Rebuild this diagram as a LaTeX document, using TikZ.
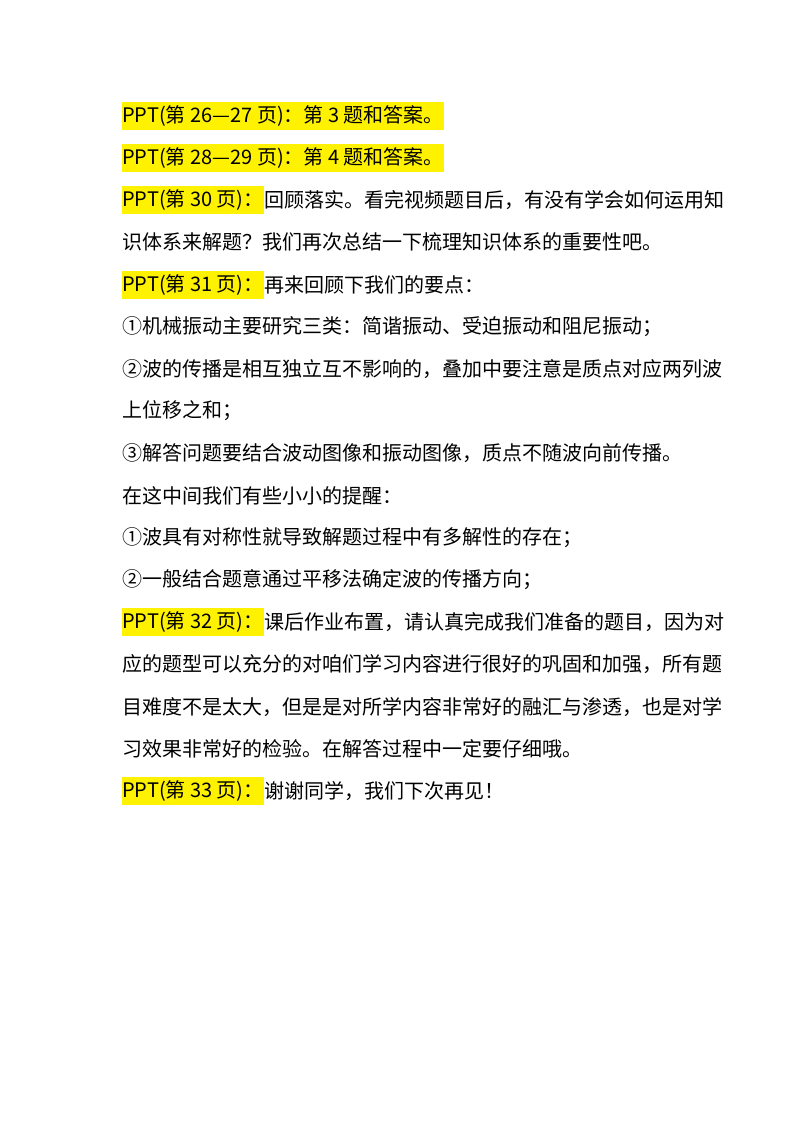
\documentclass[tikz,border=0pt]{standalone}
\usepackage{fontspec}
\newfontfamily\cjk{Noto Sans CJK SC}
\begin{document}
\begin{tikzpicture}[x=0.75pt,y=-0.75pt,
  hl/.style={anchor=west,fill=yellow,inner xsep=0pt,inner ysep=3pt,font=\cjk\fontsize{15}{18}\selectfont},
  tx/.style={anchor=west,inner xsep=0pt,inner ysep=3pt,font=\cjk\fontsize{15}{18}\selectfont}]
\useasboundingbox[fill=white] (0,0) rectangle (800,1132);
\node[hl] (a1) at (122,116) {PPT(第 26—27 页)：第 3 题和答案。};
\node[hl] (a2) at (122,158) {PPT(第 28—29 页)：第 4 题和答案。};
\node[hl] (a3) at (122,200) {PPT(第 30 页)：};
\node[tx] (b3) at (a3.east) {回顾落实。看完视频题目后，有没有学会如何运用知};
\node[tx] (c3) at (122,242) {识体系来解题？我们再次总结一下梳理知识体系的重要性吧。};
\node[hl] (a4) at (122,285) {PPT(第 31 页)：};
\node[tx] (b4) at (a4.east) {再来回顾下我们的要点：};
\node[tx] (l1) at (122,327) {①机械振动主要研究三类：简谐振动、受迫振动和阻尼振动；};
\node[tx] (l2) at (122,369) {②波的传播是相互独立互不影响的，叠加中要注意是质点对应两列波};
\node[tx] (l3) at (122,411) {上位移之和；};
\node[tx] (l4) at (122,453) {③解答问题要结合波动图像和振动图像，质点不随波向前传播。};
\node[tx] (l5) at (122,496) {在这中间我们有些小小的提醒：};
\node[tx] (l6) at (122,538) {①波具有对称性就导致解题过程中有多解性的存在；};
\node[tx] (l7) at (122,580) {②一般结合题意通过平移法确定波的传播方向；};
\node[hl] (a5) at (122,622) {PPT(第 32 页)：};
\node[tx] (b5) at (a5.east) {课后作业布置，请认真完成我们准备的题目，因为对};
\node[tx] (l8) at (122,664) {应的题型可以充分的对咱们学习内容进行很好的巩固和加强，所有题};
\node[tx] (l9) at (122,707) {目难度不是太大，但是是对所学内容非常好的融汇与渗透，也是对学};
\node[tx] (l10) at (122,749) {习效果非常好的检验。在解答过程中一定要仔细哦。};
\node[hl] (a6) at (122,791) {PPT(第 33 页)：};
\node[tx] (b6) at (a6.east) {谢谢同学，我们下次再见！};
\end{tikzpicture}
\end{document}
